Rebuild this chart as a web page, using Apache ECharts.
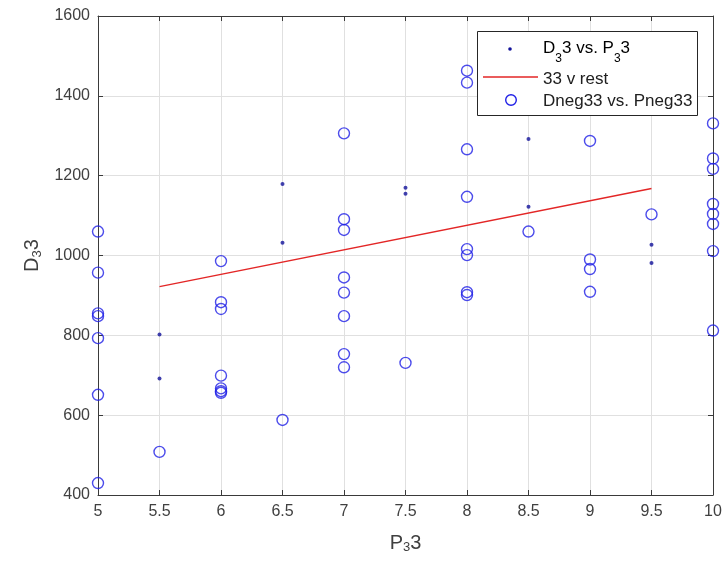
<!DOCTYPE html>
<html>
<head>
<meta charset="utf-8">
<script src="https://cdn.jsdelivr.net/npm/echarts@6/dist/echarts.min.js"></script>
<style>
  html, body { margin: 0; padding: 0; background: #ffffff; }
  #chart { width: 726px; height: 564px; }
</style>
</head>
<body>
<div id="chart"></div>
<script>
// D_3 3 vs. P_3 3 (small dots)
const posX = [5.5, 5.5, 6.5, 6.5, 7.5, 7.5, 8.5, 8.5, 9.5, 9.5];
const posY = [802, 692, 1179, 1032, 1170, 1155, 1292, 1122, 1027, 981];

// Dneg33 vs. Pneg33 (open circles)
const negX = [
  5, 5, 5, 5, 5, 5, 5,
  5.5,
  6, 6, 6, 6, 6, 6, 6,
  6.5,
  7, 7, 7, 7, 7, 7, 7, 7,
  7.5,
  8, 8, 8, 8, 8, 8, 8, 8,
  8.5,
  9, 9, 9, 9,
  9.5,
  10, 10, 10, 10, 10, 10, 10, 10
];
const negY = [
  1060, 957, 855, 848, 793, 651, 430,
  508,
  986, 883, 866, 699, 667, 660, 656,
  588,
  1306, 1091, 1064, 945, 907, 848, 753, 720,
  731,
  1463, 1433, 1266, 1147, 1016, 1001, 908, 901,
  1060,
  1287, 990, 966, 909,
  1103,
  1331, 1243, 1217, 1129, 1104, 1079, 1011, 812
];

// "33 v rest" fitted line
const fitX = [5.5, 9.5];
const fitY = [922, 1168];

const xTicks = { min: 5, max: 10, interval: 0.5 };
const yTicks = { min: 400, max: 1600, interval: 200 };

const FONT = "'Liberation Sans', Arial, Helvetica, sans-serif";
const AXIS_COLOR = '#3a3a3a';
const TEXT_COLOR = '#404040';
const GRID_COLOR = '#e0e0e0';
const DOT_COLOR = '#12129a';
const CIRCLE_COLOR = '#1f1fe6';
const LINE_COLOR = '#e32626';

const zip = (xs, ys) => xs.map((x, i) => [x, ys[i]]);

const subRich = {
  b: { fontSize: 20, fontFamily: FONT, color: TEXT_COLOR, lineHeight: 22 },
  s: { fontSize: 13, fontFamily: FONT, color: TEXT_COLOR, lineHeight: 13, padding: [16, 0, 0, 0], verticalAlign: 'bottom' }
};

function boxAxis(base, pos) {
  return Object.assign({}, base, {
    type: 'value',
    position: pos,
    axisLine: { show: true, onZero: false, lineStyle: { color: AXIS_COLOR, width: 1 } },
    axisTick: { show: true, inside: true, length: 5, lineStyle: { color: AXIS_COLOR } },
    axisLabel: { show: false },
    splitLine: { show: false }
  });
}

const xBase = { min: xTicks.min, max: xTicks.max, interval: xTicks.interval };
const yBase = { min: yTicks.min, max: yTicks.max, interval: yTicks.interval };

const chart = echarts.init(document.getElementById('chart'), null, { renderer: 'canvas' });

// legend box, drawn on its own layer above the plotted marks
const LEG_Z = { zlevel: 5, z: 100 };

chart.setOption({
  animation: false,
  backgroundColor: '#ffffff',
  grid: { left: 98, right: 13, top: 16, bottom: 69, containLabel: false },
  xAxis: [
    Object.assign({}, xBase, {
      type: 'value',
      position: 'bottom',
      name: '{b|P}{s|3}{b|3}',
      nameLocation: 'middle',
      nameGap: 37,
      nameTextStyle: { rich: subRich },
      axisLine: { show: true, onZero: false, lineStyle: { color: AXIS_COLOR, width: 1 } },
      axisTick: { show: true, inside: true, length: 5, lineStyle: { color: AXIS_COLOR } },
      axisLabel: { show: true, margin: 9, fontSize: 16, fontFamily: FONT, color: TEXT_COLOR },
      splitLine: { show: true, lineStyle: { color: GRID_COLOR, width: 1 } }
    }),
    boxAxis(xBase, 'top')
  ],
  yAxis: [
    Object.assign({}, yBase, {
      type: 'value',
      position: 'left',
      name: '{b|D}{s|3}{b|3}',
      nameLocation: 'middle',
      nameGap: 47,
      nameRotate: 90,
      nameTextStyle: { rich: subRich },
      axisLine: { show: true, onZero: false, lineStyle: { color: AXIS_COLOR, width: 1 } },
      axisTick: { show: true, inside: true, length: 5, lineStyle: { color: AXIS_COLOR } },
      axisLabel: {
        show: true, margin: 8, fontSize: 16, fontFamily: FONT, color: TEXT_COLOR,
        formatter: v => String(v)
      },
      splitLine: { show: true, lineStyle: { color: GRID_COLOR, width: 1 } }
    }),
    boxAxis(yBase, 'right')
  ],
  series: [
    {
      name: 'D₃3 vs. P₃3',
      type: 'scatter',
      xAxisIndex: 0, yAxisIndex: 0,
      data: zip(posX, posY),
      symbol: 'circle',
      symbolSize: 4,
      itemStyle: { color: DOT_COLOR },
      z: 3
    },
    {
      name: '33 v rest',
      type: 'line',
      xAxisIndex: 0, yAxisIndex: 0,
      data: zip(fitX, fitY),
      showSymbol: false,
      symbol: 'none',
      lineStyle: { color: LINE_COLOR, width: 1.5 },
      z: 2
    },
    {
      name: 'Dneg33 vs. Pneg33',
      type: 'scatter',
      xAxisIndex: 0, yAxisIndex: 0,
      data: zip(negX, negY),
      symbol: 'circle',
      symbolSize: 11,
      itemStyle: { color: 'rgba(0,0,0,0)', borderColor: CIRCLE_COLOR, borderWidth: 1.4 },
      z: 4
    }
  ],
  graphic: [
    Object.assign({
      type: 'rect',
      shape: { x: 477.5, y: 31.5, width: 220, height: 84 },
      style: { fill: '#ffffff', stroke: '#262626', lineWidth: 1 }
    }, LEG_Z),
    Object.assign({
      type: 'circle',
      shape: { cx: 510, cy: 49, r: 1.8 },
      style: { fill: DOT_COLOR }
    }, LEG_Z),
    Object.assign({
      type: 'text',
      x: 543, y: 40,
      style: {
        text: '{m|D}{s|3}{m|3 vs. P}{s|3}{m|3}',
        textVerticalAlign: 'top',
        rich: {
          m: { fontSize: 17, fontFamily: FONT, color: '#202020', lineHeight: 20, verticalAlign: 'top' },
          s: { fontSize: 12, fontFamily: FONT, color: '#202020', lineHeight: 12, padding: [13, 0, 0, 0], verticalAlign: 'top' }
        }
      }
    }, LEG_Z),
    Object.assign({
      type: 'line',
      shape: { x1: 483, y1: 77, x2: 538, y2: 77 },
      style: { stroke: LINE_COLOR, lineWidth: 1.5 }
    }, LEG_Z),
    Object.assign({
      type: 'text',
      x: 543, y: 79,
      style: { text: '33 v rest', fontSize: 17, fontFamily: FONT, fill: '#202020', textVerticalAlign: 'middle' }
    }, LEG_Z),
    Object.assign({
      type: 'circle',
      shape: { cx: 511, cy: 100, r: 5.3 },
      style: { fill: 'rgba(0,0,0,0)', stroke: CIRCLE_COLOR, lineWidth: 1.4 }
    }, LEG_Z),
    Object.assign({
      type: 'text',
      x: 543, y: 101,
      style: { text: 'Dneg33 vs. Pneg33', fontSize: 17, fontFamily: FONT, fill: '#202020', textVerticalAlign: 'middle' }
    }, LEG_Z)
  ]
});
</script>
</body>
</html>
